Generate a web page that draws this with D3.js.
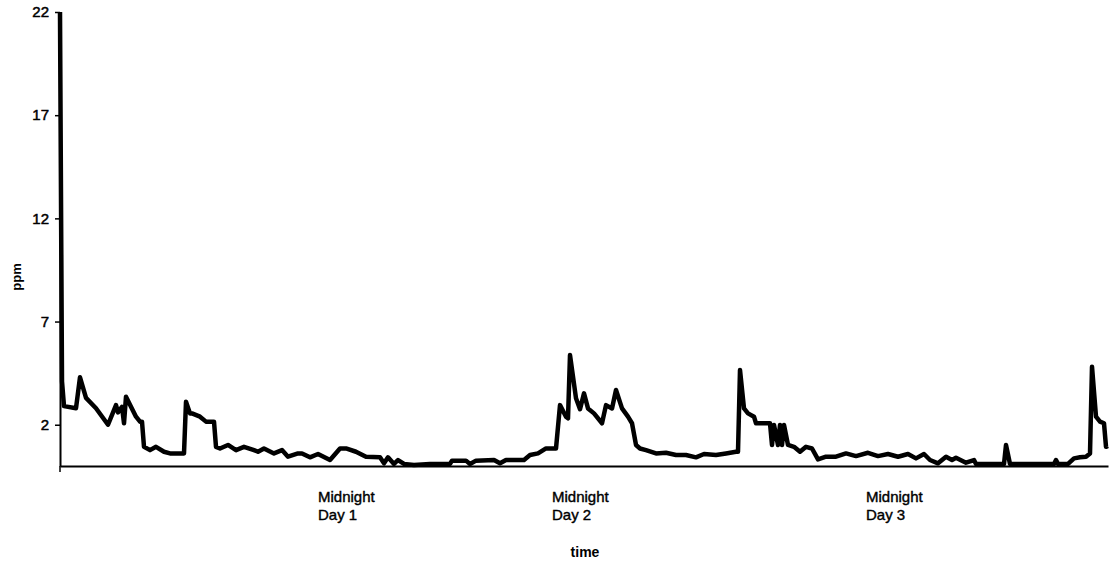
<!DOCTYPE html>
<html>
<head>
<meta charset="utf-8">
<script src="https://cdn.jsdelivr.net/npm/d3@7"></script>
<style>
  body { margin: 0; background: #fff; }
  text { font-family: "Liberation Sans", Arial, sans-serif; fill: #000; }
</style>
</head>
<body>
<div id="chart"></div>
<script>
// readings (sample number) and measured ppm
var readings = [0, 1, 2, 8, 10, 13, 18, 24, 28, 29, 31, 32, 33, 38, 40, 41, 42, 45, 48, 52, 55, 62, 63, 65, 66, 70, 73, 77, 78, 80, 84, 88, 92, 97, 99, 102, 107, 111, 114, 119,
	121, 125, 129, 135, 140, 143, 148, 153, 160, 162, 164, 167, 169, 172, 177, 185, 195, 196, 203, 205, 208, 217, 220, 223, 232, 235, 239, 243, 248,
	250, 253, 254, 255, 258, 260, 262, 264, 267, 271, 273, 276, 278, 281, 284, 286, 288, 290, 293, 298, 303, 308, 313, 318, 322, 328, 333, 338, 339,
	340, 342, 344, 347, 348, 355, 356, 357, 359, 360, 361, 362, 364, 367, 370, 373, 376, 379, 383, 388, 393, 398, 404, 409, 414, 419, 424, 428, 432,
	435, 439, 443, 446, 448, 453, 457, 458, 472, 473, 475, 497, 498, 499, 504, 507, 510, 513, 515, 516, 518, 520, 522, 523, 524];
var ppm = [22, 4.1, 2.9, 2.8, 4.3, 3.3, 2.8, 2.0, 2.95, 2.6, 2.87, 2.07, 3.36, 2.39, 2.15, 2.15, 0.93, 0.77, 0.93, 0.69, 0.61, 0.61, 3.11, 2.55, 2.55, 2.39, 2.15, 2.15, 0.93, 0.85, 1.02, 0.77, 0.93, 0.77, 0.69, 0.85, 0.61, 0.77, 0.45, 0.61,
	0.61, 0.42, 0.58, 0.29, 0.85, 0.85, 0.69, 0.45, 0.42, 0.13, 0.42, 0.1, 0.29, 0.1, 0.05, 0.1, 0.1, 0.26, 0.26, 0.1, 0.26, 0.29, 0.13, 0.29, 0.29, 0.53, 0.61, 0.85, 0.85,
	2.95, 2.39, 2.31, 5.38, 3.28, 2.75, 3.52, 2.79, 2.55, 2.07, 2.95, 2.79, 3.68, 2.79, 2.39, 2.07, 1.02, 0.85, 0.77, 0.61, 0.64, 0.53, 0.53, 0.42, 0.58, 0.53, 0.61, 0.69, 0.69,
	4.65, 2.79, 2.55, 2.39, 2.07, 2.07, 1.02, 1.99, 1.02, 1.99, 1.02, 1.99, 1.02, 0.93, 0.69, 0.93, 0.85, 0.32, 0.45, 0.45, 0.61, 0.48, 0.64, 0.48, 0.58, 0.45, 0.58, 0.37, 0.58,
	0.29, 0.13, 0.45, 0.29, 0.4, 0.16, 0.29, 0.1, 0.1, 1.02, 0.1, 0.1, 0.29, 0.1, 0.1, 0.37, 0.42, 0.45, 0.61, 4.81, 2.39, 2.15, 2.07, 0.93, 0.97];

var yTicks = [2, 7, 12, 17, 22];
var dayLabels = ["Day 1", "Day 2", "Day 3"];
var dayReadings = [129, 246, 403];

var width = 1109, height = 567;
var svg = d3.select("#chart").append("svg")
	.attr("width", width)
	.attr("height", height);

var x = d3.scaleLinear().domain([0, 524]).range([60, 1108]);
var y = d3.scaleLinear().domain([0, 22]).range([466, 12]);

// y axis
var yAxis = svg.append("g")
	.attr("transform", "translate(60,0)")
	.call(d3.axisLeft(y).tickValues(yTicks).tickSize(5).tickSizeOuter(0).tickPadding(6));
yAxis.select(".domain").attr("stroke", "#000").attr("stroke-width", 2);
yAxis.selectAll(".tick line").attr("stroke", "#000").attr("stroke-width", 1.5);
yAxis.selectAll(".tick text")
	.style("font-family", "Liberation Sans, Arial, sans-serif")
	.style("font-size", "15px")
	.attr("fill", "#000")
	.attr("stroke", "#000")
	.attr("stroke-width", 0.5);

// x axis (category style, labels only)
var xAxis = svg.append("g")
	.attr("transform", "translate(0,466)")
	.call(d3.axisBottom(x).tickValues([]).tickSizeOuter(0));
xAxis.select(".domain").attr("stroke", "#000").attr("stroke-width", 2);
xAxis.append("line")
	.attr("x1", x(0)).attr("x2", x(0))
	.attr("y1", 0).attr("y2", 6)
	.attr("stroke", "#000").attr("stroke-width", 1.5);

var labels = svg.selectAll("text.day")
	.data(dayLabels).enter().append("text")
	.attr("class", "day")
	.attr("x", function (d, i) { return x(dayReadings[i]); })
	.attr("y", 502)
	.attr("stroke", "#000")
	.attr("stroke-width", 0.4)
	.style("font-size", "15px");
labels.append("tspan").text("Midnight");
labels.append("tspan")
	.attr("x", function (d, i) { return x(dayReadings[i]); })
	.attr("dy", 18)
	.text(function (d) { return d; });

// axis titles
svg.append("text")
	.attr("transform", "translate(21,277) rotate(-90)")
	.attr("text-anchor", "middle")
	.style("font-size", "13px")
	.style("font-weight", "bold")
	.text("ppm");

svg.append("text")
	.attr("x", 585)
	.attr("y", 557)
	.attr("text-anchor", "middle")
	.style("font-size", "14px")
	.style("font-weight", "bold")
	.text("time");

// series
var line = d3.line()
	.x(function (d, i) { return x(readings[i]); })
	.y(function (d) { return y(d); });

svg.append("path")
	.datum(ppm)
	.attr("d", line)
	.attr("fill", "none")
	.attr("stroke", "#000")
	.attr("stroke-width", 4.5)
	.attr("stroke-linejoin", "round");
</script>
</body>
</html>
